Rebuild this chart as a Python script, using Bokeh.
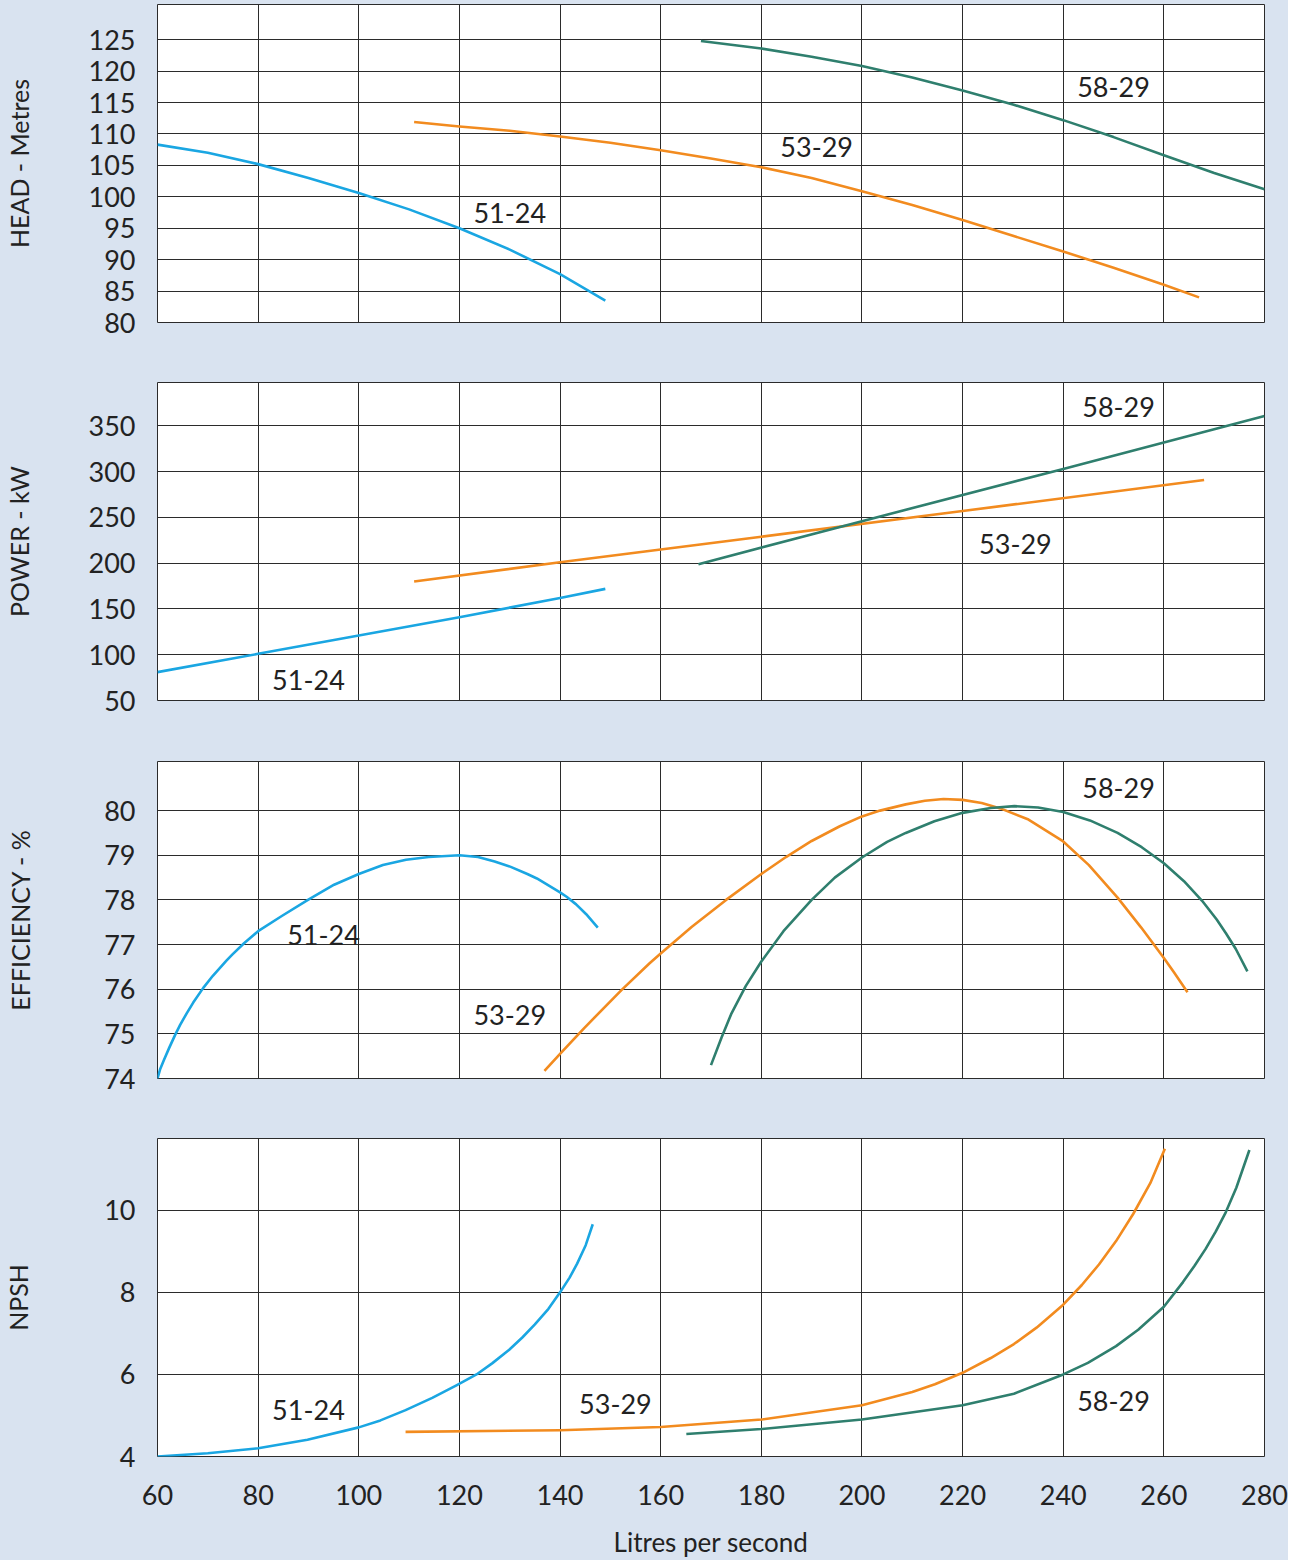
from bokeh.plotting import figure
from bokeh.layouts import column
from bokeh.models import Range1d, FixedTicker
from bokeh.core.properties import value
from bokeh.embed import file_html
from bokeh.resources import INLINE

# ---------------- data ----------------
x_ticks = [60, 80, 100, 120, 140, 160, 180, 200, 220, 240, 260, 280]
models = ["51-24", "53-29", "58-29"]

# HEAD - Metres
head_51_x = [60, 70, 80, 90, 100, 110, 120, 130, 140, 149]
head_51_y = [108.3, 107.0, 105.2, 103.0, 100.6, 98.0, 95.0, 91.6, 87.7, 83.5]
head_53_x = [111, 120, 130, 140, 150, 160, 170, 180, 190, 200, 210, 220, 230,
             240, 250, 260, 267]
head_53_y = [111.9, 111.2, 110.5, 109.6, 108.6, 107.4, 106.1, 104.7, 103.0,
             100.9, 98.7, 96.3, 93.8, 91.3, 88.7, 86.0, 84.0]
head_58_x = [168, 180, 190, 200, 210, 220, 230, 240, 250, 260, 270, 280]
head_58_y = [124.8, 123.6, 122.3, 120.8, 119.0, 116.9, 114.7, 112.2, 109.5,
             106.6, 103.8, 101.2]
head_ticks = [80, 85, 90, 95, 100, 105, 110, 115, 120, 125]
head_lbl_x = [130, 191, 250]
head_lbl_y = [97.4, 107.9, 117.4]

# POWER - kW
pow_51_x = [60, 80, 100, 120, 140, 149]
pow_51_y = [81, 101, 121, 141, 162, 172]
pow_53_x = [111, 140, 180, 220, 268]
pow_53_y = [180, 201, 229, 257, 291]
pow_58_x = [167.5, 200, 240, 280]
pow_58_y = [199, 246, 303, 361]
pow_ticks = [50, 100, 150, 200, 250, 300, 350]
pow_lbl_x = [90, 230.5, 251]
pow_lbl_y = [72, 221, 371]

# EFFICIENCY - %
eff_51_x = [60, 60.5, 61.3, 62.3, 63.6, 64.5, 65.8, 67.1, 69.1, 71, 73.7, 74.9,
            77.2, 80, 84.7, 89.9, 95.1, 100, 104.8, 109.4, 113.9, 120, 123.7,
            127, 130.2, 133.5, 135.4, 140, 141.3, 143.2, 145.2, 147.5]
eff_51_y = [74.0, 74.2, 74.42, 74.68, 75.0, 75.2, 75.46, 75.7, 76.03, 76.3,
            76.64, 76.78, 77.03, 77.3, 77.64, 78.0, 78.34, 78.58, 78.78, 78.9,
            78.96, 79.0, 78.96, 78.86, 78.74, 78.58, 78.48, 78.17, 78.07, 77.9,
            77.68, 77.38]
eff_53_x = [136.9, 140, 144.8, 152.2, 157.8, 160, 166.2, 173, 180, 184.9, 190,
            195.6, 200, 203.6, 208.7, 212.5, 216.2, 220, 223.8, 227.5, 233.1,
            240, 245.1, 250.8, 255.5, 260, 262, 264.7]
eff_53_y = [74.17, 74.55, 75.13, 75.98, 76.58, 76.8, 77.4, 78.0, 78.58, 78.96,
            79.32, 79.65, 79.87, 80.0, 80.14, 80.22, 80.26, 80.24, 80.17, 80.05,
            79.8, 79.31, 78.78, 78.05, 77.38, 76.7, 76.38, 75.93]
eff_58_x = [170, 172.1, 174, 176.9, 180, 184.4, 190, 194.6, 200, 205, 208.7,
            214.4, 220, 225.6, 230.3, 235, 240, 245.3, 250.8, 255.6, 260, 264,
            267.6, 270.5, 272.3, 274.3, 276.6]
eff_58_y = [74.3, 74.92, 75.44, 76.07, 76.62, 77.3, 78.0, 78.5, 78.95, 79.3,
            79.5, 79.76, 79.95, 80.06, 80.1, 80.07, 79.97, 79.78, 79.5, 79.18,
            78.82, 78.42, 77.98, 77.56, 77.26, 76.9, 76.4]
eff_ticks = [74, 75, 76, 77, 78, 79, 80]
eff_lbl_x = [93, 130, 251]
eff_lbl_y = [77.22, 75.43, 80.5]

# NPSH
npsh_51_x = [60, 70, 80, 89.8, 100, 104.3, 109.3, 114.6, 119.5, 123.4, 126.5,
             129.9, 132.5, 135.0, 137.7, 140, 141.9, 143.4, 145.1, 146.5]
npsh_51_y = [4.0, 4.08, 4.2, 4.41, 4.71, 4.88, 5.13, 5.43, 5.74, 6.0, 6.27,
             6.6, 6.9, 7.22, 7.6, 8.0, 8.36, 8.7, 9.15, 9.66]
npsh_53_x = [109.3, 140, 160, 180, 200, 210, 214.5, 220, 225.6, 230.2, 234.7,
             240, 243.7, 247.1, 250.5, 253.9, 257.3, 260.2]
npsh_53_y = [4.6, 4.64, 4.72, 4.9, 5.25, 5.57, 5.76, 6.04, 6.4, 6.74, 7.14,
             7.7, 8.18, 8.68, 9.25, 9.91, 10.66, 11.5]
npsh_58_x = [165.1, 180, 200, 220, 230.2, 240, 244.9, 250.5, 254.9, 260, 263.8,
             266.1, 268.3, 270.3, 272.3, 274.4, 277]
npsh_58_y = [4.55, 4.67, 4.9, 5.25, 5.53, 6.0, 6.28, 6.69, 7.09, 7.65, 8.25,
             8.65, 9.06, 9.48, 9.95, 10.55, 11.47]
npsh_ticks = [4, 6, 8, 10]
npsh_lbl_x = [90, 151, 250]
npsh_lbl_y = [5.14, 5.28, 5.36]

# ---------------- style ----------------
FONT = "Lato"
BG = "#d9e3f0"
GRID = "#2b2b2b"
COLORS = ["#1aa6e2", "#f28b1f", "#2f7f6e"]
TXT = "#222222"


def make_panel(ylabel, yrange, yticks, series, lbl_x, lbl_y, height,
               top, bottom, label_standoff, show_x=False):
    p = figure(width=1288, height=height, x_range=Range1d(60, 280),
               y_range=Range1d(*yrange), output_backend="svg",
               toolbar_location=None, min_border_left=157,
               min_border_right=24, min_border_top=top,
               min_border_bottom=bottom)
    p.background_fill_color = "white"
    p.border_fill_color = BG
    p.outline_line_color = GRID
    p.outline_line_width = 1
    p.xaxis.ticker = FixedTicker(ticks=x_ticks)
    p.yaxis.ticker = FixedTicker(ticks=yticks)
    for g in (p.xgrid, p.ygrid):
        g.grid_line_color = GRID
        g.grid_line_width = 1
    yax = p.yaxis[0]
    yax.axis_line_color = None
    yax.major_tick_line_color = None
    yax.minor_tick_line_color = None
    yax.major_tick_out = 0
    yax.major_tick_in = 0
    yax.major_label_standoff = 22
    yax.major_label_text_font = FONT
    yax.major_label_text_font_size = "27px"
    yax.major_label_text_color = TXT
    yax.axis_label = ylabel
    yax.axis_label_text_font = FONT
    yax.axis_label_text_font_size = "25px"
    yax.axis_label_text_font_style = "normal"
    yax.axis_label_text_color = TXT
    yax.axis_label_standoff = label_standoff
    xax = p.xaxis[0]
    if show_x:
        xax.axis_line_color = None
        xax.major_tick_line_color = None
        xax.minor_tick_line_color = None
        xax.major_tick_out = 0
        xax.major_tick_in = 0
        xax.major_label_standoff = 28
        xax.major_label_text_font = FONT
        xax.major_label_text_font_size = "27px"
        xax.major_label_text_color = TXT
        xax.axis_label = "Litres per second"
        xax.axis_label_text_font = FONT
        xax.axis_label_text_font_size = "26px"
        xax.axis_label_text_font_style = "normal"
        xax.axis_label_text_color = TXT
        xax.axis_label_standoff = 18
    else:
        xax.visible = False
    for (sx, sy), c in zip(series, COLORS):
        p.line(sx, sy, line_color=c, line_width=2.6, line_join="round")
    p.text(x=lbl_x, y=lbl_y, text=models, text_align="center",
           text_baseline="middle", text_font=value(FONT),
           text_font_size="27px", text_color=TXT)
    return p


p1 = make_panel("HEAD - Metres", (80, 130.6), head_ticks,
                [(head_51_x, head_51_y), (head_53_x, head_53_y),
                 (head_58_x, head_58_y)],
                head_lbl_x, head_lbl_y, 352, 4, 30, 52)
p2 = make_panel("POWER - kW", (50, 397.5), pow_ticks,
                [(pow_51_x, pow_51_y), (pow_53_x, pow_53_y),
                 (pow_58_x, pow_58_y)],
                pow_lbl_x, pow_lbl_y, 378, 30, 30, 52)
p3 = make_panel("EFFICIENCY - %", (74, 81.1), eff_ticks,
                [(eff_51_x, eff_51_y), (eff_53_x, eff_53_y),
                 (eff_58_x, eff_58_y)],
                eff_lbl_x, eff_lbl_y, 378, 31, 30, 66)
p4 = make_panel("NPSH", (4, 11.75), npsh_ticks,
                [(npsh_51_x, npsh_51_y), (npsh_53_x, npsh_53_y),
                 (npsh_58_x, npsh_58_y)],
                npsh_lbl_x, npsh_lbl_y, 452, 30, 104, 68, show_x=True)

layout = column(p1, p2, p3, p4, spacing=0, styles={"background-color": BG})
open("out.html", "w").write(file_html(layout, INLINE))
